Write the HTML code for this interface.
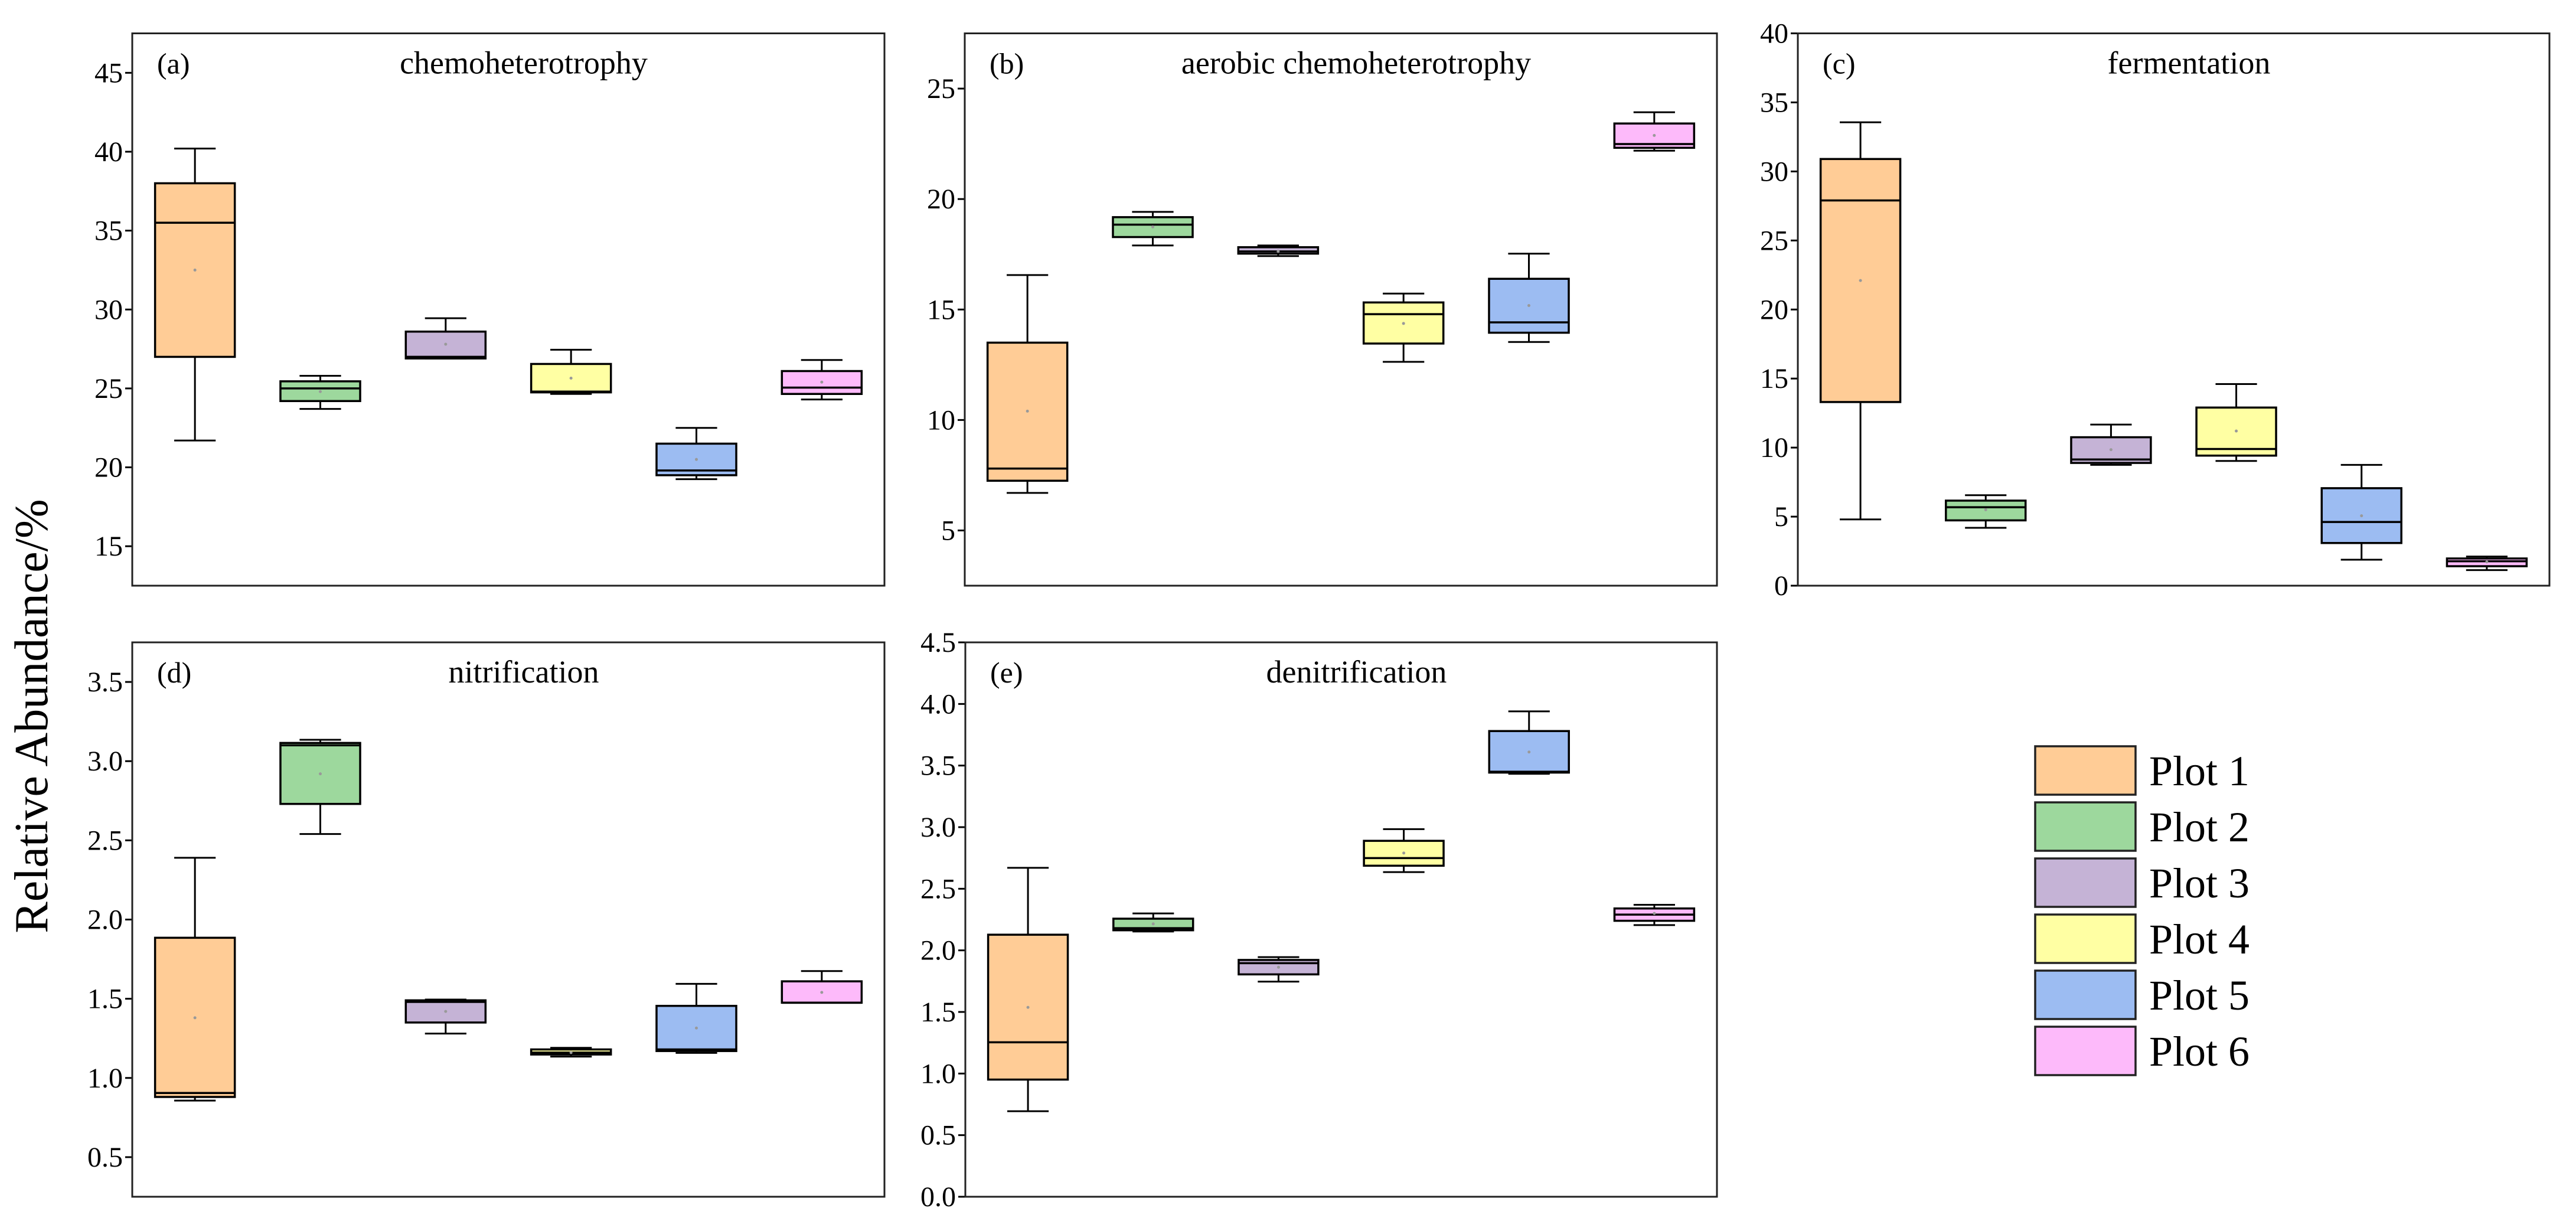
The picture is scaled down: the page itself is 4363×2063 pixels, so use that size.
<!DOCTYPE html>
<html><head><meta charset="utf-8"><style>
html,body{margin:0;padding:0;background:#fff;}
svg{display:block;font-family:"Liberation Serif",serif;}
</style></head><body>
<svg id="chart" width="4363" height="2063" viewBox="0 0 4363 2063" xmlns="http://www.w3.org/2000/svg">
<rect x="0" y="0" width="4363" height="2063" fill="#fff"/>
<text x="0" y="0" transform="translate(80,1213) rotate(-90)" text-anchor="middle" font-size="80" fill="#000">Relative Abundance/%</text>
<g id="legend"></g>
</svg>
<script>
const seriesNames = ["Plot 1","Plot 2","Plot 3","Plot 4","Plot 5","Plot 6"];
const seriesColors = ["#FFCC96","#9DD89D","#C5B3D6","#FFFFA3","#9CBCF2","#FDBAFA"];
const panelTitles = ["chemoheterotrophy","aerobic chemoheterotrophy","fermentation","nitrification","denitrification"];
const panelLabels = ["(a)","(b)","(c)","(d)","(e)"];
// per box: [whiskerLow, q1, median, q3, whiskerHigh, mean]
const chemoData = [[21.7,27.0,35.5,38.0,40.2,32.5],[23.7,24.2,25.0,25.45,25.8,24.8],[26.9,26.9,27.0,28.6,29.45,27.8],[24.65,24.75,24.8,26.55,27.45,25.65],[19.25,19.5,19.8,21.5,22.5,20.5],[24.3,24.65,25.05,26.1,26.8,25.4]];
const aerobicData = [[6.7,7.25,7.8,13.5,16.56,10.4],[17.9,18.28,18.84,19.18,19.42,18.74],[17.42,17.53,17.63,17.82,17.9,17.63],[12.63,13.46,14.79,15.32,15.72,14.37],[13.53,13.95,14.42,16.39,17.53,15.18],[22.19,22.32,22.49,23.42,23.93,22.88]];
const fermentData = [[4.8,13.3,27.9,30.9,33.56,22.1],[4.19,4.73,5.68,6.16,6.55,5.5],[8.75,8.89,9.14,10.75,11.67,9.85],[9.03,9.42,9.9,12.9,14.6,11.2],[1.88,3.09,4.61,7.06,8.75,5.06],[1.13,1.41,1.77,1.97,2.11,1.72]];
const nitriData = [[0.857,0.88,0.905,1.885,2.39,1.38],[2.54,2.73,3.1,3.115,3.135,2.92],[1.28,1.35,1.48,1.49,1.495,1.42],[1.135,1.148,1.16,1.18,1.19,1.16],[1.158,1.17,1.18,1.455,1.594,1.315],[1.475,1.475,1.475,1.61,1.675,1.54]];
const denitriData = [[0.694,0.951,1.254,2.127,2.67,1.537],[2.153,2.163,2.18,2.257,2.3,2.215],[1.746,1.805,1.896,1.922,1.945,1.863],[2.635,2.687,2.749,2.889,2.984,2.79],[3.433,3.443,3.45,3.78,3.94,3.61],[2.205,2.24,2.29,2.34,2.37,2.3]];
const ticksA = ["15","20","25","30","35","40","45"];
const ticksB = ["5","10","15","20","25"];
const ticksC = ["0","5","10","15","20","25","30","35","40"];
const ticksD = ["0.5","1.0","1.5","2.0","2.5","3.0","3.5"];
const ticksE = ["0.0","0.5","1.0","1.5","2.0","2.5","3.0","3.5","4.0","4.5"];
const rangesMin = [12.5,2.5,0,0.25,0];
const rangesMax = [47.5,27.5,40,3.75,4.5];

const NS="http://www.w3.org/2000/svg";
const svg=document.getElementById('chart');
function mk(tag,attrs,parent){const e=document.createElementNS(NS,tag);for(const k in attrs)e.setAttribute(k,attrs[k]);(parent||svg).appendChild(e);return e;}

const frames=[[224,1498,56.5,992],[1634,2908,56.5,992],[3045,4318,56.5,992],[224,1498,1088,2027],[1635,2908,1088,2027]];
const datas=[chemoData,aerobicData,fermentData,nitriData,denitriData];
const ticks=[ticksA,ticksB,ticksC,ticksD,ticksE];

frames.forEach((f,p)=>{
  const [L,R,T,B]=f;
  const g=mk('g',{});
  
  
  const y=v=>B-(v-rangesMin[p])/(rangesMax[p]-rangesMin[p])*(B-T);
  const step=(R-L)/6;
  const x=i=>L+step*(i+0.5);
  ticks[p].forEach(t=>{
    const v=parseFloat(t), yy=y(v);
    const tl=mk('line',{x1:L-12,x2:L,y1:yy,y2:yy,stroke:'#000','stroke-width':3},g);
    
    
    const tx=mk('text',{x:L-16,y:yy+16,'text-anchor':'end','font-size':48,fill:'#000'},g);
    
    
    tx.textContent=t;
  });
  datas[p].forEach((d,i)=>{
    const [lo,q1,md,q3,hi,mn]=d;
    const cx=x(i), bw=step*0.636, cw=bw*0.52;
    const bg=mk('g',{},g);
    
    
    mk('line',{x1:cx,x2:cx,y1:y(hi),y2:y(q3),stroke:'#000','stroke-width':3},bg);
    mk('line',{x1:cx,x2:cx,y1:y(q1),y2:y(lo),stroke:'#000','stroke-width':3},bg);
    mk('line',{x1:cx-cw/2,x2:cx+cw/2,y1:y(hi),y2:y(hi),stroke:'#000','stroke-width':3},bg);
    mk('line',{x1:cx-cw/2,x2:cx+cw/2,y1:y(lo),y2:y(lo),stroke:'#000','stroke-width':3},bg);
    mk('rect',{x:cx-bw/2,y:y(q3),width:bw,height:Math.max(1,y(q1)-y(q3)),fill:seriesColors[i],stroke:'#000','stroke-width':3.5},bg);
    mk('line',{x1:cx-bw/2,x2:cx+bw/2,y1:y(md),y2:y(md),stroke:'#000','stroke-width':3.5},bg);
    mk('circle',{cx:cx,cy:y(mn),r:2.5,fill:'#999'},bg);
  });
  const fr=mk('rect',{x:L,y:T,width:R-L,height:B-T,fill:'none',stroke:'#222','stroke-width':3},g);
  
  
  const lb=mk('text',{x:L+42,y:T+68,'font-size':50,fill:'#000'},g);
  
  
  lb.textContent=panelLabels[p];
  const ti=mk('text',{x:(L+R)/2+26,y:T+68,'text-anchor':'middle','font-size':54,fill:'#000'},g);
  
  
  ti.textContent=panelTitles[p];
});

const lg=document.getElementById('legend');
seriesNames.forEach((n,i)=>{
  const yy=1264+95*i;
  const e=mk('g',{},lg);
  
  
  mk('rect',{x:3447,y:yy,width:170,height:82,fill:seriesColors[i],stroke:'#222','stroke-width':3.5},e);
  const t=mk('text',{x:3640,y:yy+66,'font-size':72,fill:'#000'},e);
  t.textContent=n;
});
</script>
</body></html>
